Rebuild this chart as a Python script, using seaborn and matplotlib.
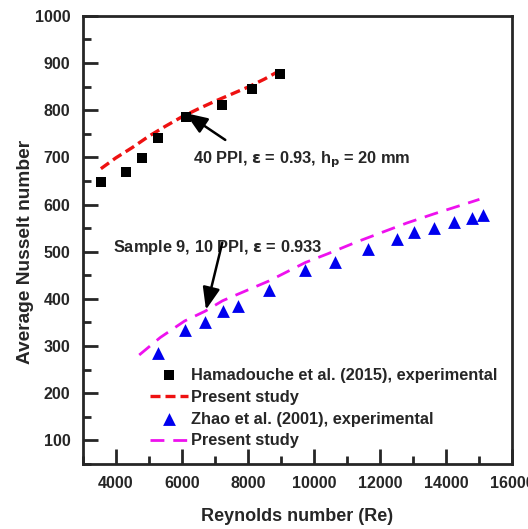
import numpy as np
import pandas as pd
import matplotlib
matplotlib.use("Agg")
import matplotlib.pyplot as plt
from matplotlib.ticker import MultipleLocator
import seaborn as sns

# ---- data ----
ham_re = [3555, 4312, 4797, 5282, 6130, 7221, 8130, 8979]
ham_nu = [647, 670, 699, 740, 786, 812, 845, 876]

red_re = [3545, 4000, 4500, 5000, 5500, 6000, 6500, 7000, 7500, 8000, 8500, 9040]
red_nu = [676, 699, 721, 745, 766, 786, 803, 819, 834, 849, 866, 887]

zhao_re = [5261, 6079, 6706, 7230, 7697, 8636, 9736, 10624, 11636, 12515,
           13039, 13624, 14252, 14797, 15109]
zhao_nu = [286, 333, 350, 374, 385, 419, 462, 478, 505, 526, 541, 551, 563, 571, 577]

mag_re = [4706, 5342, 6079, 6706, 7230, 8636, 9736, 10394, 11303, 12060,
          12818, 13624, 14433, 15009]
mag_nu = [281, 318, 353, 374, 396, 438, 477, 495, 521, 541, 561, 580, 598, 611]

legend_labels = ["Hamadouche et al. (2015), experimental", "Present study",
                 "Zhao et al. (2001), experimental", "Present study"]

sns.set_style("ticks")
plt.rcParams["font.family"] = ["Liberation Sans", "DejaVu Sans"]
plt.rcParams["font.weight"] = "bold"

fig = plt.figure(figsize=(5.28, 5.29), dpi=100)
ax = fig.add_axes([0.157, 0.123, 0.813, 0.847])

df_h = pd.DataFrame({"Re": ham_re, "Nu": ham_nu})
df_r = pd.DataFrame({"Re": red_re, "Nu": red_nu})
df_z = pd.DataFrame({"Re": zhao_re, "Nu": zhao_nu})
df_m = pd.DataFrame({"Re": mag_re, "Nu": mag_nu})

sns.scatterplot(data=df_h, x="Re", y="Nu", marker="s", s=60, color="black",
                edgecolor="black", linewidth=0, ax=ax, label=legend_labels[0], zorder=3)
sns.lineplot(data=df_r, x="Re", y="Nu", color="#ee1111", lw=2.4, ax=ax,
             label=legend_labels[1], zorder=2, sort=False)
sns.scatterplot(data=df_z, x="Re", y="Nu", marker="^", s=85, color="#0000ee",
                edgecolor="#0000ee", linewidth=0, ax=ax, label=legend_labels[2], zorder=3)
sns.lineplot(data=df_m, x="Re", y="Nu", color="#ee11ee", lw=2.0, ax=ax,
             label=legend_labels[3], zorder=2, sort=False)

lines = ax.get_lines()
lines[0].set_dashes((3.0, 1.5))
lines[1].set_dashes((5.0, 3.2))

ax.set_xlim(3000, 16000)
ax.set_ylim(50, 1000)
ax.xaxis.set_major_locator(MultipleLocator(2000))
ax.xaxis.set_minor_locator(MultipleLocator(1000))
ax.yaxis.set_major_locator(MultipleLocator(100))
ax.yaxis.set_minor_locator(MultipleLocator(50))
ax.set_yticks(np.arange(100, 1001, 100))
ax.tick_params(which="major", direction="in", length=11, width=2, labelsize=11.5, pad=9)
ax.tick_params(which="minor", direction="in", length=6, width=2)
ax.tick_params(axis="x", which="both", top=False)
ax.tick_params(axis="y", which="both", right=False)
for lab in ax.get_xticklabels() + ax.get_yticklabels():
    lab.set_fontweight("bold")
for sp in ax.spines.values():
    sp.set_linewidth(2)
    sp.set_visible(True)

ax.set_xlabel("Reynolds number (Re)", fontsize=13, fontweight="bold", labelpad=12)
ax.set_ylabel("Average Nusselt number", fontsize=13.8, fontweight="bold")
ax.yaxis.set_label_coords(-0.114, 0.473)

arrow_kw = dict(arrowstyle="-|>,head_length=0.9,head_width=0.35", color="black", lw=1.8,
                mutation_scale=15, shrinkA=0, shrinkB=0)
ax.text(6342, 688, r"40 PPI, $\mathbf{\varepsilon}$ = 0.93, h$_\mathbf{p}$ = 20 mm",
        fontsize=11.8, fontweight="bold", va="baseline", ha="left")
ax.annotate("", xy=(6100, 794), xytext=(7312, 737), arrowprops=arrow_kw)
ax.text(3918, 500, r"Sample 9, 10 PPI, $\mathbf{\varepsilon}$ = 0.933", fontsize=11.8,
        fontweight="bold", va="baseline", ha="left")
ax.annotate("", xy=(6727, 377), xytext=(7221, 519), arrowprops=arrow_kw)

leg = ax.legend(loc="lower left", bbox_to_anchor=(0.142, 0.02), frameon=False,
                fontsize=11.8, handlelength=2.3, handletextpad=0.2,
                labelspacing=0.42, borderaxespad=0)
for t in leg.get_texts():
    t.set_fontweight("bold")

fig.savefig("out.png", dpi=100, facecolor="white")
